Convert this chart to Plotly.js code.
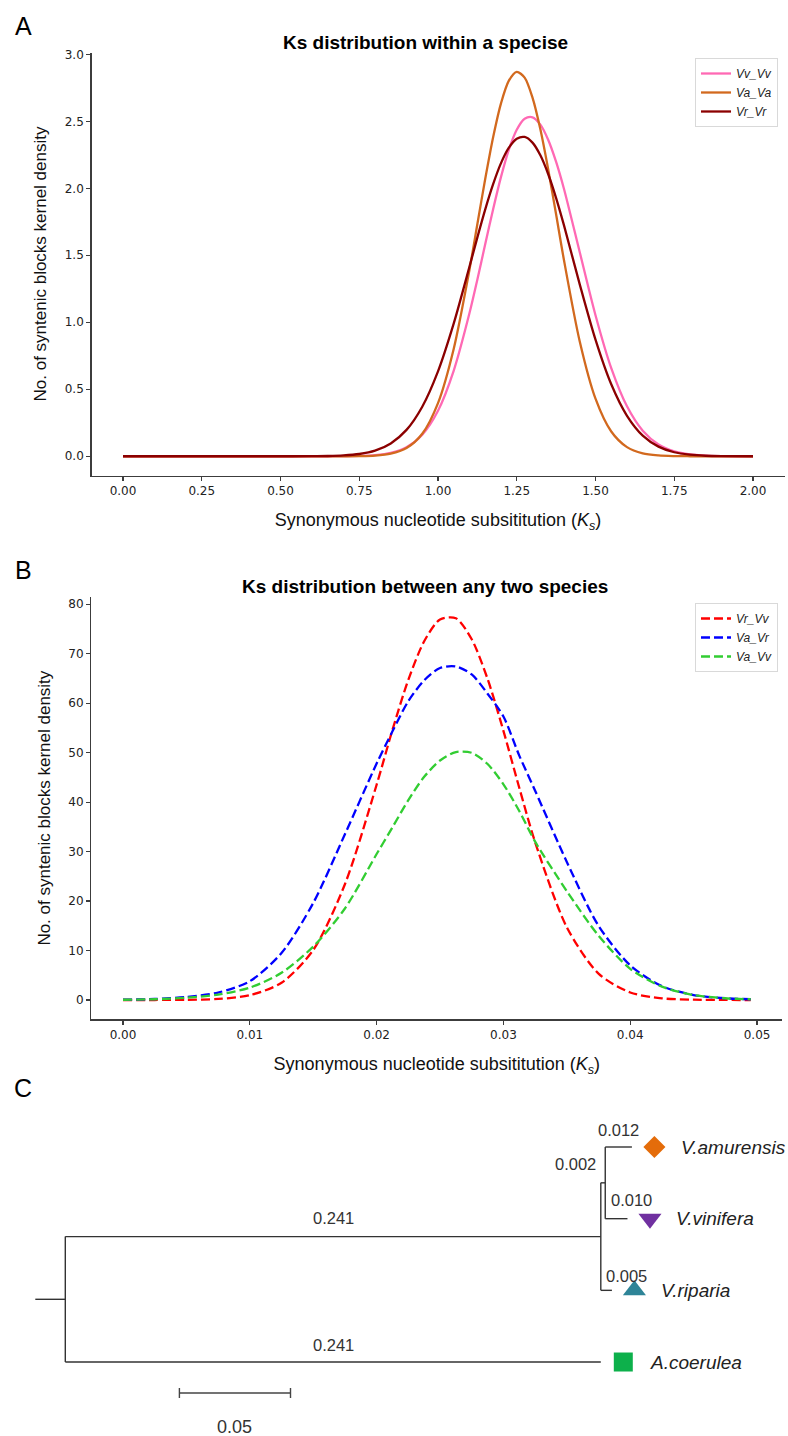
<!DOCTYPE html>
<html>
<head>
<meta charset="utf-8">
<script src="https://cdn.plot.ly/plotly-3.0.1.min.js"></script>
<style>
html,body{margin:0;padding:0;background:#ffffff;}
#chart{width:788px;height:1436px;}
</style>
</head>
<body>
<div id="chart"></div>
<script>
// ================= DATA =================
// Panel A: Ks distribution within a species (kernel density)
const ksWithin = [0, 0.25, 0.5, 0.6, 0.65, 0.7, 0.75, 0.8, 0.85, 0.9, 0.95, 1.0, 1.05, 1.1, 1.125, 1.15, 1.175, 1.2, 1.225, 1.25, 1.275, 1.3, 1.325, 1.35, 1.375, 1.4, 1.45, 1.5, 1.55, 1.6, 1.65, 1.7, 1.75, 1.8, 1.85, 1.9, 2.0];
const densVvVv = [0, 0, 0, 0.0001, 0.0003, 0.0006, 0.0024, 0.0083, 0.025, 0.067, 0.161, 0.340, 0.640, 1.069, 1.320, 1.584, 1.844, 2.085, 2.289, 2.437, 2.519, 2.530, 2.475, 2.361, 2.197, 1.995, 1.523, 1.053, 0.658, 0.373, 0.191, 0.088, 0.037, 0.014, 0.005, 0.0015, 0.0001];
const densVaVa = [0, 0, 0, 0, 0.0001, 0.0002, 0.001, 0.005, 0.019, 0.061, 0.168, 0.397, 0.803, 1.394, 1.733, 2.071, 2.381, 2.634, 2.803, 2.869, 2.826, 2.677, 2.440, 2.139, 1.804, 1.463, 0.857, 0.430, 0.185, 0.068, 0.021, 0.006, 0.0015, 0.0003, 0.0001, 0, 0];
const densVrVr = [0, 0, 0.0001, 0.0007, 0.002, 0.0063, 0.017, 0.042, 0.096, 0.197, 0.370, 0.634, 0.992, 1.416, 1.634, 1.843, 2.031, 2.188, 2.303, 2.370, 2.383, 2.341, 2.246, 2.105, 1.927, 1.723, 1.283, 0.870, 0.537, 0.302, 0.154, 0.072, 0.030, 0.012, 0.004, 0.0013, 0.0001];
const seriesWithin = ['Vv_Vv', 'Va_Va', 'Vr_Vr'];
const ticksWithinX = [0, 0.25, 0.5, 0.75, 1.0, 1.25, 1.5, 1.75, 2.0];
const ticksWithinY = [0, 0.5, 1.0, 1.5, 2.0, 2.5, 3.0];

// Panel B: Ks distribution between any two species
const ksBetween = [0, 0.0025, 0.005, 0.0075, 0.01, 0.0125, 0.015, 0.0175, 0.02, 0.02125, 0.0225, 0.02375, 0.025, 0.02625, 0.0275, 0.02875, 0.03, 0.03125, 0.0325, 0.035, 0.0375, 0.04, 0.0425, 0.045, 0.0475, 0.0495];
const densVrVv = [0, 0.005, 0.04, 0.21, 0.97, 3.49, 10.1, 23.4, 43.5, 54.6, 64.7, 72.5, 76.9, 77.15, 72.9, 64.9, 54.4, 42.9, 31.9, 14.7, 5.34, 1.52, 0.34, 0.06, 0.01, 0];
const densVaVr = [0.06, 0.2, 0.6, 1.5, 3.8, 9.5, 19.6, 33.5, 47.8, 54.3, 60.4, 64.6, 67.1, 67.4, 65.8, 61.9, 57.3, 49.4, 42.3, 27.9, 15.0, 7.0, 2.8, 1.0, 0.35, 0.15];
const densVaVv = [0.05, 0.15, 0.45, 1.1, 2.5, 5.5, 10.8, 18.5, 29.5, 34.9, 40.4, 45.1, 48.4, 50.1, 49.96, 47.7, 43.6, 38.2, 32.0, 22.0, 13.0, 6.3, 2.7, 1.0, 0.35, 0.15];
const seriesBetween = ['Vr_Vv', 'Va_Vr', 'Va_Vv'];
const ticksBetweenX = [0, 0.01, 0.02, 0.03, 0.04, 0.05];
const ticksBetweenY = [0, 10, 20, 30, 40, 50, 60, 70, 80];

// Panel C: phylogenetic tree (branch lengths)
const taxa = ['V.amurensis', 'V.vinifera', 'V.riparia', 'A.coerulea'];
const tipBranchLengths = [0.012, 0.010, 0.005, 0.241];
const innerBranchLength = 0.002;   // Vitis node -> (amurensis, vinifera) node
const vitisStemLength = 0.241;     // root -> Vitis node
const scaleBarLength = 0.05;

// ================= STYLE / GEOMETRY =================
const W = 788, H = 1436;
const fx = px => px / W;
const fy = py => 1 - py / H;
const LABEL_FONT = 'Liberation Sans, Arial, Helvetica, sans-serif';
const TICK_FONT = 'DejaVu Sans, Liberation Sans, sans-serif';
const AXIS_COLOR = '#3c3c3c';

const colorsWithin = ['#ff69b4', '#d2691e', '#8b0000'];
const colorsBetween = ['#ff0000', '#0000ff', '#32cd32'];
const markerSymbols = ['diamond', 'triangle-down', 'triangle-up', 'square'];
const markerColors = ['#E46C0A', '#7030A0', '#2E8497', '#0DB04B'];
const markerSizes = [17, 20, 20, 19];

const traces = [];
const withinY = [densVvVv, densVaVa, densVrVr];
seriesWithin.forEach((name, i) => {
  traces.push({
    type: 'scatter', mode: 'lines', x: ksWithin, y: withinY[i],
    name: '<i>' + name + '</i>', xaxis: 'x', yaxis: 'y', legend: 'legend',
    line: {color: colorsWithin[i], width: 2.3, shape: 'spline', smoothing: 0.8},
    hoverinfo: 'skip'
  });
});
const betweenY = [densVrVv, densVaVr, densVaVv];
seriesBetween.forEach((name, i) => {
  traces.push({
    type: 'scatter', mode: 'lines', x: ksBetween, y: betweenY[i],
    name: '<i>' + name + '</i>', xaxis: 'x2', yaxis: 'y2', legend: 'legend2',
    line: {color: colorsBetween[i], width: 2.3, dash: '9px,4px', shape: 'spline', smoothing: 0.8},
    hoverinfo: 'skip'
  });
});

// ---- tree geometry (x = cumulative branch length, y = tip index) ----
const tipY = taxa.map((t, i) => i);
const vitisX = vitisStemLength;
const innerX = vitisX + innerBranchLength;
const innerY = (tipY[0] + tipY[1]) / 2;
const vitisY = (innerY + tipY[2]) / 2;
const rootY = (vitisY + tipY[3]) / 2;
const tipX = [innerX + tipBranchLengths[0], innerX + tipBranchLengths[1], vitisX + tipBranchLengths[2], tipBranchLengths[3]];

const PX_PER_UNIT = 2222;      // tree horizontal scale (px per substitution/site)
const ROOT_PX = 65.3;
const TIP0_PX = 1147, TIP_STEP_PX = 71.67;
const TREE_TOP_PX = 1085;
const rootStub = 30 / PX_PER_UNIT;

const segs = [
  [[-rootStub, rootY], [0, rootY]],
  [[0, vitisY], [0, tipY[3]]],
  [[0, vitisY], [vitisX, vitisY]],
  [[0, tipY[3]], [tipX[3], tipY[3]]],
  [[vitisX, innerY], [vitisX, tipY[2]]],
  [[vitisX, innerY], [innerX, innerY]],
  [[vitisX, tipY[2]], [tipX[2], tipY[2]]],
  [[innerX, tipY[0]], [innerX, tipY[1]]],
  [[innerX, tipY[0]], [tipX[0], tipY[0]]],
  [[innerX, tipY[1]], [tipX[1], tipY[1]]]
];
const tx = [], ty = [];
segs.forEach(s => { tx.push(s[0][0], s[1][0], null); ty.push(s[0][1], s[1][1], null); });
traces.push({type: 'scatter', mode: 'lines', x: tx, y: ty, xaxis: 'x3', yaxis: 'y3',
  line: {color: '#333333', width: 1.4}, showlegend: false, hoverinfo: 'skip'});

// scale bar
const sbStart = (179.4 - ROOT_PX) / PX_PER_UNIT;
const sbY = (1393 - TIP0_PX) / TIP_STEP_PX;
const sbTick = 5 / TIP_STEP_PX;
traces.push({type: 'scatter', mode: 'lines',
  x: [sbStart, sbStart + scaleBarLength, null, sbStart, sbStart, null, sbStart + scaleBarLength, sbStart + scaleBarLength],
  y: [sbY, sbY, null, sbY - sbTick, sbY + sbTick, null, sbY - sbTick, sbY + sbTick],
  xaxis: 'x3', yaxis: 'y3', line: {color: '#444444', width: 1.4}, showlegend: false, hoverinfo: 'skip'});

// tip markers
const markerOffset = 22.5 / PX_PER_UNIT;
taxa.forEach((t, i) => {
  traces.push({type: 'scatter', mode: 'markers', x: [tipX[i] + markerOffset], y: [tipY[i]],
    xaxis: 'x3', yaxis: 'y3', showlegend: false, hoverinfo: 'skip',
    marker: {symbol: markerSymbols[i], size: markerSizes[i], color: markerColors[i], line: {width: 0}}});
});

// ================= ANNOTATIONS =================
const ann = [];
function paperText(text, px, py, size, opts) {
  ann.push(Object.assign({text: text, x: fx(px), y: fy(py), xref: 'paper', yref: 'paper',
    xanchor: 'center', yanchor: 'middle', showarrow: false,
    font: {family: LABEL_FONT, size: size, color: '#000'}}, opts || {}));
}
paperText('A', 23, 26, 25);
paperText('B', 23, 570, 25);
paperText('C', 23, 1088, 25);
paperText('<b>Ks distribution within a specise</b>', 425, 42, 19);
paperText('<b>Ks distribution between any two species</b>', 425, 586, 19);
const xTitle = 'Synonymous nucleotide subsititution (<i>K<sub>s</sub></i>)';
const yTitle = 'No. of syntenic blocks kernel density';

function treeText(text, x, y, size, opts) {
  ann.push(Object.assign({text: text, x: x, y: y, xref: 'x3', yref: 'y3',
    xanchor: 'center', yanchor: 'middle', showarrow: false,
    font: {family: LABEL_FONT, size: size, color: '#333'}}, opts || {}));
}
const numFmt = v => v.toFixed(3);
treeText(numFmt(vitisStemLength), vitisX / 2, vitisY, 16.5, {yshift: 19});
treeText(numFmt(tipBranchLengths[3]), tipX[3] / 2, tipY[3], 16.5, {yshift: 17});
treeText(numFmt(tipBranchLengths[0]), (innerX + tipX[0]) / 2, tipY[0], 16.5, {yshift: 17});
treeText(numFmt(tipBranchLengths[1]), (innerX + tipX[1]) / 2, tipY[1], 16.5, {yshift: 19, xshift: 15});
treeText(numFmt(tipBranchLengths[2]), (vitisX + tipX[2]) / 2, tipY[2], 16.5, {yshift: 14, xshift: 20});
treeText(numFmt(innerBranchLength), vitisX, innerY, 16.5, {xanchor: 'right', xshift: -3, yshift: 19});
treeText(String(scaleBarLength), sbStart + scaleBarLength / 2, sbY, 18, {yshift: -34});
taxa.forEach((t, i) => {
  treeText('<i>' + t + '</i>', tipX[i], tipY[i], 19, {xanchor: 'left', xshift: 47, font: {family: LABEL_FONT, size: 19, color: '#222'}});
});

// ================= LAYOUT =================
function axisBase() {
  return {showline: true, linecolor: AXIS_COLOR, linewidth: 1.3, ticks: 'outside', ticklen: 4,
    tickwidth: 1.1, tickcolor: AXIS_COLOR, showgrid: false, zeroline: false, mirror: false,
    tickfont: {family: TICK_FONT, size: 12, color: '#222'}, fixedrange: true, automargin: false};
}
const xTitleObj = () => ({text: xTitle, standoff: 16, font: {family: LABEL_FONT, size: 18, color: '#111'}});
const yTitleObj = () => ({text: yTitle, standoff: 13, font: {family: LABEL_FONT, size: 17, color: '#111'}});
const layout = {
  width: W, height: H, margin: {l: 0, r: 0, t: 0, b: 0},
  paper_bgcolor: '#ffffff', plot_bgcolor: '#ffffff', showlegend: true,
  xaxis: Object.assign(axisBase(), {domain: [fx(91.5), fx(784.5)], range: [-0.1, 2.1], anchor: 'y',
    tickvals: ticksWithinX, ticktext: ticksWithinX.map(v => v.toFixed(2)), title: xTitleObj()}),
  yaxis: Object.assign(axisBase(), {domain: [fy(475.5), fy(52.5)], range: [-0.1435, 3.0135], anchor: 'x',
    tickvals: ticksWithinY, ticktext: ticksWithinY.map(v => v.toFixed(1)), title: yTitleObj()}),
  xaxis2: Object.assign(axisBase(), {domain: [fx(91.3), fx(782.4)], range: [-0.0025, 0.052], anchor: 'y2',
    tickvals: ticksBetweenX, ticktext: ticksBetweenX.map(v => v.toFixed(2)), title: xTitleObj()}),
  yaxis2: Object.assign(axisBase(), {domain: [fy(1019.3), fy(597)], range: [-3.9, 81.45], anchor: 'x2',
    tickvals: ticksBetweenY, ticktext: ticksBetweenY.map(v => String(v)), title: yTitleObj()}),
  xaxis3: {domain: [0, 1], range: [(0 - ROOT_PX) / PX_PER_UNIT, (W - ROOT_PX) / PX_PER_UNIT], anchor: 'y3',
    visible: false, fixedrange: true},
  yaxis3: {domain: [0, fy(TREE_TOP_PX)], range: [(H - TIP0_PX) / TIP_STEP_PX, (TREE_TOP_PX - TIP0_PX) / TIP_STEP_PX],
    anchor: 'x3', visible: false, fixedrange: true},
  legend: {x: fx(695), y: fy(58), xanchor: 'left', yanchor: 'top', bgcolor: '#ffffff',
    bordercolor: '#d9d9d9', borderwidth: 1, font: {family: LABEL_FONT, size: 12, color: '#222'},
    itemwidth: 30, tracegroupgap: 0},
  legend2: {x: fx(695), y: fy(603), xanchor: 'left', yanchor: 'top', bgcolor: '#ffffff',
    bordercolor: '#d9d9d9', borderwidth: 1, font: {family: LABEL_FONT, size: 12, color: '#222'},
    itemwidth: 30, tracegroupgap: 0},
  annotations: ann
};
Plotly.newPlot('chart', traces, layout, {displayModeBar: false, staticPlot: true});
</script>
</body>
</html>
